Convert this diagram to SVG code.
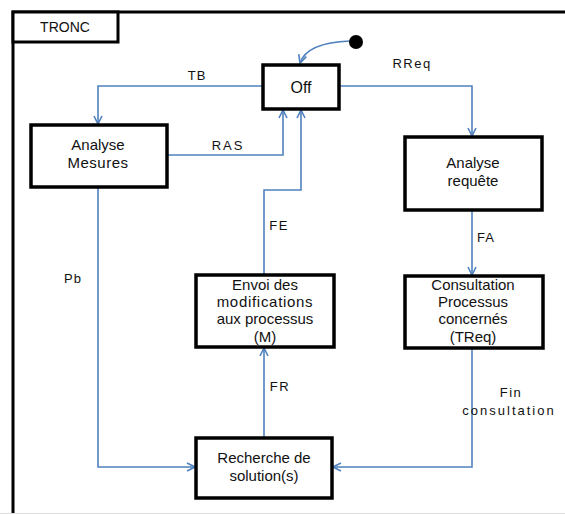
<svg xmlns="http://www.w3.org/2000/svg" width="565" height="514" viewBox="0 0 565 514">
<defs>
<style>
.box{fill:#fff;stroke:#000;stroke-width:3.5}
.t{font-family:"Liberation Sans",Arial,sans-serif;font-size:13px;fill:#111;text-anchor:middle}
.b{font-size:15px}
.c{fill:none;stroke:#4F81BD;stroke-width:1.6}
</style>
<marker id="ah" viewBox="0 0 10 10" refX="9" refY="5" markerWidth="10" markerHeight="10" markerUnits="userSpaceOnUse" orient="auto">
<path d="M1,1 L9,5 L1,9" fill="none" stroke="#4F81BD" stroke-width="1.6"/>
</marker>
</defs>
<rect width="565" height="514" fill="#fff"/>
<g id="frame">
<path d="M13,514 L13,12 L566,12" fill="none" stroke="#000" stroke-width="3"/>
<line x1="0" y1="513.5" x2="565" y2="513.5" stroke="#ddd" stroke-width="1"/>
<rect x="13" y="12" width="105" height="30" fill="#fff" stroke="#000" stroke-width="3"/>
<text class="t" x="65" y="32" style="font-size:14px">TRONC</text>
</g>
<g id="connectors">
<path class="c" d="M350,41 C325,42 305,48 300,63" marker-end="url(#ah)"/>
<path class="c" d="M263,86 L98,86 L98,124" marker-end="url(#ah)"/>
<path class="c" d="M167,155 L283,155 L283,110" marker-end="url(#ah)"/>
<path class="c" d="M264,274 L264,190 L301,190 L301,110" marker-end="url(#ah)"/>
<path class="c" d="M339,86 L472,86 L472,136" marker-end="url(#ah)"/>
<path class="c" d="M472,210 L472,275" marker-end="url(#ah)"/>
<path class="c" d="M472,348 L472,467 L333,467" marker-end="url(#ah)"/>
<path class="c" d="M98,187 L98,467 L195,467" marker-end="url(#ah)"/>
<path class="c" d="M264,437 L264,348" marker-end="url(#ah)"/>
</g>
<g id="initial"><circle cx="356" cy="42" r="7" fill="#000"/></g>
<g id="off">
<rect class="box" x="263" y="65" width="76" height="44"/>
<text class="t" x="301" y="93" style="font-size:16px">Off</text>
</g>
<g id="analyse-mesures">
<rect class="box" x="31" y="125" width="136" height="62"/>
<text class="t b" x="98" y="150">Analyse</text>
<text class="t b" x="98" y="168" letter-spacing="0.5">Mesures</text>
</g>
<g id="analyse-requete">
<rect class="box" x="405" y="137" width="137" height="73"/>
<text class="t b" x="473" y="168">Analyse</text>
<text class="t b" x="473" y="186">requête</text>
</g>
<g id="consultation">
<rect class="box" x="405" y="276" width="138" height="72"/>
<text class="t b" x="473" y="290">Consultation</text>
<text class="t b" x="473" y="307">Processus</text>
<text class="t b" x="473" y="324">concernés</text>
<text class="t b" x="473" y="342">(TReq)</text>
</g>
<g id="envoi">
<rect class="box" x="196" y="275" width="138" height="72"/>
<text class="t b" x="265" y="290">Envoi des</text>
<text class="t b" x="265" y="307" letter-spacing="0.7">modifications</text>
<text class="t b" x="265" y="324">aux processus</text>
<text class="t b" x="265" y="342">(M)</text>
</g>
<g id="recherche">
<rect class="box" x="196" y="438" width="136" height="60"/>
<text class="t b" x="264" y="463">Recherche de</text>
<text class="t b" x="264" y="481">solution(s)</text>
</g>
<g id="labels">
<text class="t" x="197" y="80" letter-spacing="1">TB</text>
<text class="t" x="412" y="68" letter-spacing="1.5">RReq</text>
<text class="t" x="228" y="150" letter-spacing="2">RAS</text>
<text class="t" x="279" y="230" letter-spacing="1.5">FE</text>
<text class="t" x="486" y="242" letter-spacing="1">FA</text>
<text class="t" x="73" y="283" letter-spacing="1">Pb</text>
<text class="t" x="280" y="391" letter-spacing="1.5">FR</text>
<text class="t" x="511" y="397" letter-spacing="1.5">Fin</text>
<text class="t" x="509" y="415" letter-spacing="2">consultation</text>
</g>
</svg>
